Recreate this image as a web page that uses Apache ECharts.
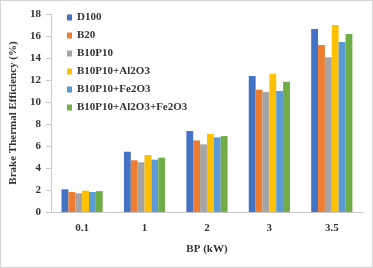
<!DOCTYPE html>
<html><head><meta charset="utf-8">
<script src="https://cdn.jsdelivr.net/npm/echarts@6/dist/echarts.min.js"></script>
<style>html,body{margin:0;padding:0;background:#fff}
#c{width:373px;height:268px;position:absolute;left:0;top:0}
#f{position:absolute;left:0;top:0;width:371px;height:266px;border:1px solid #d4d4d4;pointer-events:none}
</style></head><body>
<div id="c"></div><div id="f"></div>
<script>
const categories = ['0.1','1','2','3','3.5'];
const seriesNames = ['D100','B20','B10P10','B10P10+Al2O3','B10P10+Fe2O3','B10P10+Al2O3+Fe2O3'];
const D100 = [2.06, 5.48, 7.36, 12.36, 16.64];
const B20 = [1.82, 4.70, 6.50, 11.12, 15.18];
const B10P10 = [1.70, 4.52, 6.15, 10.90, 14.06];
const B10P10_Al2O3 = [1.94, 5.18, 7.09, 12.57, 17.00];
const B10P10_Fe2O3 = [1.82, 4.76, 6.79, 11.00, 15.45];
const B10P10_Al2O3_Fe2O3 = [1.90, 4.94, 6.90, 11.85, 16.18];
const yTicks = [0, 2, 4, 6, 8, 10, 12, 14, 16, 18];
const values = [D100, B20, B10P10, B10P10_Al2O3, B10P10_Fe2O3, B10P10_Al2O3_Fe2O3];
const colors = ['#4472C4','#ED7D31','#A5A5A5','#FFC000','#5B9BD5','#70AD47'];
const font = 'Liberation Serif';
const chart = echarts.init(document.getElementById('c'), null, {renderer:'canvas'});
chart.setOption({
  animation: false,
  color: colors,
  grid: {left: 47, right: 10, top: 14, bottom: 56},
  legend: {
    orient: 'vertical', left: 62, top: 7, itemWidth: 5, itemHeight: 6, itemGap: 7,
    icon: 'rect',
    textStyle: {fontFamily: font, fontWeight: 'bold', fontSize: 11, color: '#333'},
    data: seriesNames
  },
  xAxis: {
    type: 'category', data: categories,
    name: 'BP (kW)', nameLocation: 'middle', nameGap: 32,
    nameTextStyle: {fontFamily: font, fontWeight: 'bold', fontSize: 11, color: '#333'},
    axisLine: {lineStyle: {color: '#c8c8c8', width: 1}},
    axisTick: {show: false},
    axisLabel: {fontFamily: font, fontWeight: 'bold', fontSize: 11, color: '#333', margin: 11}
  },
  yAxis: {
    type: 'value', min: yTicks[0], max: yTicks[yTicks.length-1], interval: 2,
    name: 'Brake Thermal Efficiency (%)', nameLocation: 'middle', nameGap: 28,
    nameTextStyle: {fontFamily: font, fontWeight: 'bold', fontSize: 11, color: '#333'},
    axisLine: {show: true, lineStyle: {color: '#c8c8c8'}},
    axisTick: {show: true, length: 5, lineStyle: {color: '#c8c8c8'}},
    splitLine: {show: false},
    axisLabel: {fontFamily: font, fontWeight: 'bold', fontSize: 11, color: '#333', margin: 10}
  },
  series: seriesNames.map((n, i) => ({
    name: n, type: 'bar', data: values[i],
    barGap: '0%', barCategoryGap: '34%'
  }))
});
</script></body></html>
